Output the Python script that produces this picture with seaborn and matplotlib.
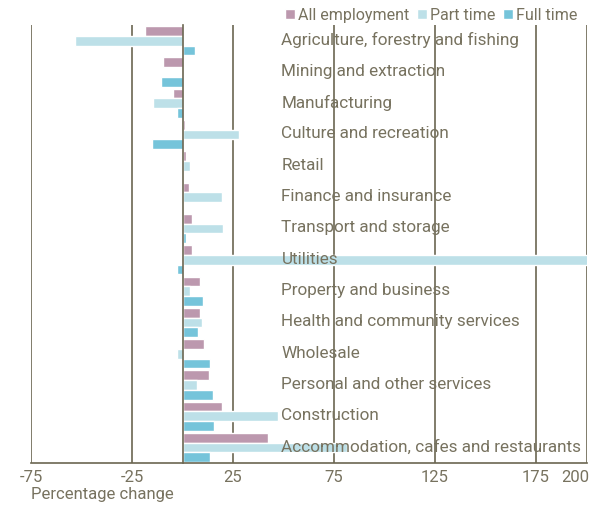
import matplotlib
matplotlib.use("Agg")
import matplotlib.pyplot as plt
import matplotlib.transforms as mtrans
import seaborn as sns
import pandas as pd

categories = ["Agriculture, forestry and fishing", "Mining and extraction", "Manufacturing",
              "Culture and recreation", "Retail", "Finance and insurance", "Transport and storage",
              "Utilities", "Property and business", "Health and community services", "Wholesale",
              "Personal and other services", "Construction", "Accommodation, cafes and restaurants"]
all_employment = [-18.5, -9.6, -4.6, 1.3, 1.8, 3.3, 4.8, 4.8, 8.8, 8.8, 10.7, 13.2, 19.7, 42.4]
part_time = [-53.0, 0.0, -14.5, 28.0, 3.8, 19.6, 20.2, 215.0, 3.8, 9.8, -2.6, 7.3, 47.3, 81.4]
full_time = [6.3, -10.5, -2.6, -15.0, 0.0, 0.9, 1.8, -2.6, 10.3, 7.8, 13.7, 15.2, 15.7, 13.7]
series = ["All employment", "Part time", "Full time"]
xticks = [-75, -25, 25, 75, 125, 175, 200]

rows = []
for s, vals in zip(series, [all_employment, part_time, full_time]):
    for c, v in zip(categories, vals):
        rows.append({"cat": c, "series": s, "val": v})
df = pd.DataFrame(rows)

sns.set_style("white")
plt.rcParams['font.family'] = ['Roboto', 'DejaVu Sans']
txt = "#77725f"
line = "#6b6651"
colors = ["#bc98ae", "#bde0e8", "#75c4da"]

fig = plt.figure(figsize=(5.89, 5.05), dpi=100)
ax = fig.add_axes([31/589, 1-463.3/505, (586.5-31)/589, (463.3-25)/505])
sns.barplot(data=df, y="cat", x="val", hue="series", order=categories, hue_order=series,
            palette=colors, orient="h", width=0.93, ax=ax, saturation=1, errorbar=None)
ax.set_xlim(-75, 200)
ax.set_ylim(len(categories) - 0.5, -0.5)
ax.set_xticks(xticks)
labels = ax.set_xticklabels([str(t) for t in xticks], fontsize=12, color=txt)
labels[-1].set_horizontalalignment("right")
ax.tick_params(axis='x', length=0, pad=5)
labels[-1].set_transform(labels[-1].get_transform() + mtrans.ScaledTranslation(3/100, 0, fig.dpi_scale_trans))
ax.grid(axis='x', color=line, linewidth=1.2)
ax.set_axisbelow(True)

for sp in ["top", "right"]:
    ax.spines[sp].set_visible(False)
ax.spines["bottom"].set_color(line)
ax.spines["bottom"].set_linewidth(1.2)
ax.spines["left"].set_position(("data", 0))
ax.spines["left"].set_color(line)
ax.spines["left"].set_linewidth(1.2)
ax.spines["left"].set_zorder(5)
ax.set_yticks([i - 0.5 for i in range(len(categories) + 1)])
ax.set_yticklabels([])
ax.tick_params(axis='y', length=5, width=1.2, color="#aaa595", direction="out")
ax.set_ylabel("")
ax.set_xlabel("Percentage change", fontsize=12, color=txt, loc="left", labelpad=1.5)

for i, c in enumerate(categories):
    ax.text(49, i - 0.02, c, fontsize=12.3, color=txt, va="center", ha="left", zorder=6)

leg = ax.legend(loc="lower right", bbox_to_anchor=(0.995, 0.99), ncol=3, frameon=False,
                handlelength=0.6, handleheight=0.6, handletextpad=0.2, columnspacing=0.5,
                fontsize=11.5, borderaxespad=0)
for t in leg.get_texts():
    t.set_color(txt)

fig.savefig("out.png", dpi=100)
